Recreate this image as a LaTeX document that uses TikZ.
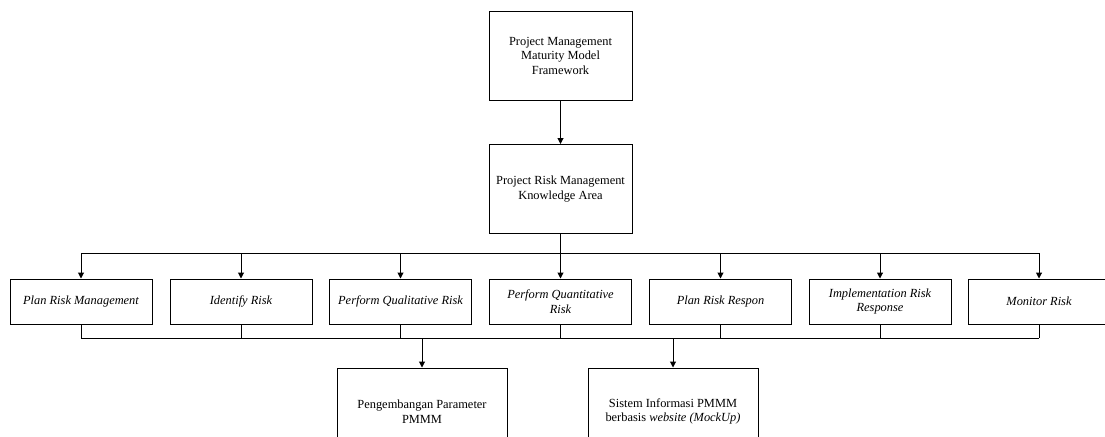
\documentclass[tikz,border=0pt]{standalone}
\usepackage{fontspec}
\setmainfont{Liberation Serif}
\usetikzlibrary{arrows.meta}
\begin{document}
\begin{tikzpicture}[x=0.75pt,y=-0.75pt,
  box/.style={draw,line width=0.75pt,align=center,inner sep=1pt,font=\fontsize{9.3}{10.9}\selectfont},
  topbox/.style={box,minimum width=143*0.75pt,minimum height=89*0.75pt},
  rowbox/.style={box,minimum width=142*0.75pt,minimum height=45*0.75pt,font=\fontsize{9.3}{10.9}\selectfont\itshape},
  botbox/.style={box,minimum width=170*0.75pt,minimum height=87*0.75pt},
  line/.style={line width=0.75pt},
  arr/.style={line,-{Triangle[length=4.5pt,width=4.5pt]}}]
\useasboundingbox (0,0) rectangle (1105,436);
\clip (0,0) rectangle (1105,436);
\node[topbox] (pmmm) at (560.5,55.5) {Project Management\\Maturity Model\\Framework};
\node[topbox] (prm) at (560.5,189) {Project Risk Management\\Knowledge Area};
\node[rowbox] (b1) at (81,301.5) {Plan Risk Management};
\node[rowbox] (b2) at (241,301.5) {Identify Risk};
\node[rowbox] (b3) at (400.5,301.5) {Perform Qualitative Risk};
\node[rowbox] (b4) at (560.5,301.5) {Perform Quantitative\\Risk};
\node[rowbox] (b5) at (720.5,301.5) {Plan Risk Respon};
\node[rowbox] (b6) at (880,301.5) {Implementation Risk\\Response};
\node[rowbox] (b7) at (1039,301.5) {Monitor Risk};
\node[botbox] (pa) at (422,411.5) {Pengembangan Parameter\\PMMM};
\node[botbox] (pb) at (673,411.5) {Sistem Informasi PMMM\\berbasis \textit{website (MockUp)}};
\coordinate (bus) at (560.5,253);
\coordinate (lbus) at (560.5,338);
\draw[arr] (pmmm) -- (prm);
\draw[line] (prm.south) -- (prm.south |- bus);
\draw[line] (b1.north |- bus) -- (b7.north |- bus);
\foreach \b in {b1,b2,b3,b4,b5,b6,b7} {
  \draw[arr] (\b.north |- bus) -- (\b.north);
  \draw[line] (\b.south) -- (\b.south |- lbus);
}
\draw[line] (b1.south |- lbus) -- (b7.south |- lbus);
\draw[arr] (pa.north |- lbus) -- (pa.north);
\draw[arr] (pb.north |- lbus) -- (pb.north);
\end{tikzpicture}
\end{document}
